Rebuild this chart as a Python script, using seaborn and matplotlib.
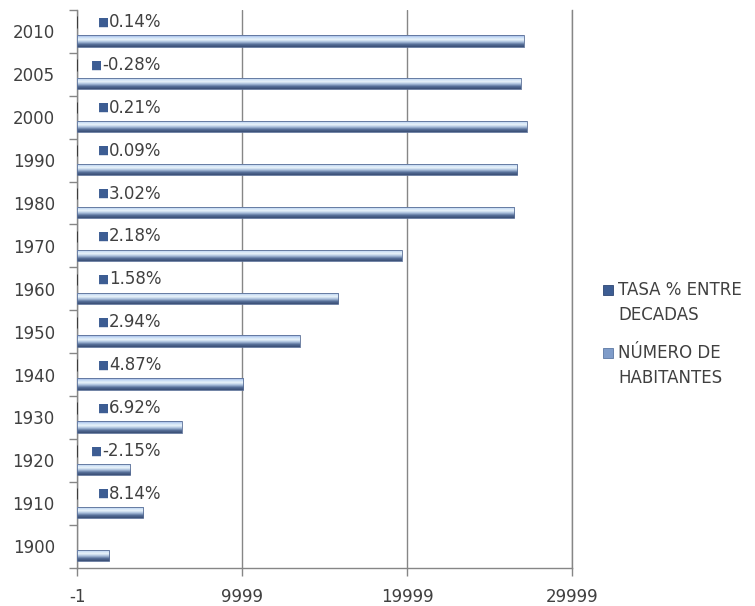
import numpy as np
import pandas as pd
import matplotlib
matplotlib.use("Agg")
import matplotlib.pyplot as plt
from matplotlib.patches import Patch, Rectangle
from matplotlib.legend_handler import HandlerPatch
from matplotlib.colors import LinearSegmentedColormap
import seaborn as sns

# Census years, population and annual growth rate between censuses
years = ["2010", "2005", "2000", "1990", "1980", "1970", "1960",
         "1950", "1940", "1930", "1920", "1910", "1900"]
habitantes = [27070, 26870, 27230, 26670, 26470, 19670, 15830,
              13480, 10080, 6340, 3230, 4000, 1950]
tasa = [0.14, -0.28, 0.21, 0.09, 3.02, 2.18, 1.58,
        2.94, 4.87, 6.92, -2.15, 8.14, None]
tasa_labels = ["0.14%", "-0.28%", "0.21%", "0.09%", "3.02%", "2.18%", "1.58%",
               "2.94%", "4.87%", "6.92%", "-2.15%", "8.14%", ""]
series = ["TASA % ENTRE\nDECADAS", "NÚMERO DE\nHABITANTES"]
x_ticks = [-1, 9999, 19999, 29999]

df = pd.concat([
    pd.DataFrame({"year": years, "serie": series[0], "valor": tasa}),
    pd.DataFrame({"year": years, "serie": series[1], "valor": habitantes}),
], ignore_index=True)

TEXT = "#404040"
AXIS = "#868686"
KEY_DARK = "#3d5d93"
KEY_LIGHT = "#7f9cc9"

sns.set_theme(style="white")
plt.rcParams["font.family"] = ["DejaVu Sans"]
plt.rcParams["text.color"] = TEXT

fig = plt.figure(figsize=(7.55, 6.06), dpi=100)
ax = fig.add_axes([0.102, 0.0635, 0.656, 0.92])

sns.barplot(data=df, y="year", x="valor", hue="serie", order=years,
            hue_order=series, palette=[KEY_DARK, KEY_LIGHT], orient="h",
            width=0.88, gap=0.4, legend=False, ax=ax, zorder=3)

n = len(years)
ax.set_xlim(x_ticks[0], x_ticks[-1])
ax.set_ylim(n - 0.5, -0.5)

# cylinder-like shading for the population bars
shade = LinearSegmentedColormap.from_list(
    "barshade",
    [(0.0, "#95aee3"), (0.18, "#c7dbf4"), (0.38, "#eaf5fb"),
     (0.58, "#a9bfdc"), (0.78, "#566f98"), (1.0, "#3a4e74")])
grad = np.linspace(0, 1, 64).reshape(-1, 1)

tasa_bars, hab_bars = ax.containers[0], ax.containers[1]


def row_of(p):
    return int(round(p.get_y() + p.get_height() / 2))


for p in hab_bars:
    x0, y0, w, h = p.get_x(), p.get_y(), p.get_width(), p.get_height()
    im = ax.imshow(grad, cmap=shade, aspect="auto", origin="upper",
                   extent=(x0, x0 + w, y0 + h, y0), zorder=3,
                   interpolation="bilinear")
    im.set_clip_path(p)
    p.set_facecolor("none")
    p.set_edgecolor("#5a6f96")
    p.set_linewidth(0.6)
    p.set_zorder(4)

ax.set_xlim(x_ticks[0], x_ticks[-1])
ax.set_ylim(n - 0.5, -0.5)

# rate bars are tiny at this scale; label them with a key and the value
for p in tasa_bars:
    i = row_of(p)
    v, lab = tasa[i], tasa_labels[i]
    if v is None or lab == "":
        continue
    p.set_edgecolor("#3a3a3a")
    p.set_linewidth(0.7)
    xe = p.get_x() + p.get_width()
    yc = p.get_y() + p.get_height() / 2
    dx = 10 if v < 0 else 15
    ax.annotate("■", xy=(xe, yc), xytext=(dx, 0), textcoords="offset points",
                ha="left", va="center", fontsize=8.5, color=KEY_DARK, zorder=5)
    ax.annotate(lab, xy=(xe, yc), xytext=(dx + 8, 0), textcoords="offset points",
                ha="left", va="center", fontsize=12, color=TEXT, zorder=5)

# axes styling
ax.set_xticks(x_ticks)
ax.set_xticklabels([str(t) for t in x_ticks])
ax.set_yticks(np.arange(-0.5, n, 1.0))
ax.set_yticklabels([])
ax.set_yticks(np.arange(n), minor=True)
ax.set_yticklabels(years, minor=True)
ax.tick_params(axis="y", which="major", length=6, width=1, color=AXIS,
               direction="out", left=True)
ax.tick_params(axis="y", which="minor", length=0, pad=16, labelsize=12,
               labelcolor=TEXT)
ax.tick_params(axis="x", length=6, width=1, color=AXIS, direction="out",
               bottom=True, pad=9, labelsize=12, labelcolor=TEXT)
ax.set_xlabel("")
ax.set_ylabel("")

ax.grid(axis="x", color=AXIS, linewidth=1)
ax.grid(axis="y", visible=False)
ax.set_axisbelow(True)
ax.spines["top"].set_visible(False)
for s in ["left", "bottom", "right"]:
    ax.spines[s].set_color(AXIS)
    ax.spines[s].set_linewidth(1)


class FirstLineKey(HandlerPatch):
    """Legend key placed beside the first line of a two-line label."""

    def create_artists(self, legend, orig_handle, xdescent, ydescent,
                       width, height, fontsize, trans):
        shift = 0.78 * fontsize
        r = Rectangle((-xdescent, -ydescent + shift), width, height,
                      facecolor=orig_handle.get_facecolor(),
                      edgecolor=orig_handle.get_edgecolor(),
                      linewidth=orig_handle.get_linewidth(), transform=trans)
        return [r]


handles = [Patch(facecolor=KEY_DARK, edgecolor="#2d4673", linewidth=0.6),
           Patch(facecolor=KEY_LIGHT, edgecolor="#5b77a3", linewidth=0.6)]
leg = fig.legend(handles, series, loc="upper left",
                 bbox_to_anchor=(0.79, 0.548), frameon=False, fontsize=12,
                 handlelength=0.6, handleheight=0.6, handletextpad=0.3,
                 labelspacing=1.2, borderaxespad=0,
                 handler_map={Patch: FirstLineKey()})
for t in leg.get_texts():
    t.set_linespacing(1.5)
    t.set_color(TEXT)

fig.savefig("out.png", dpi=100, facecolor="white")
